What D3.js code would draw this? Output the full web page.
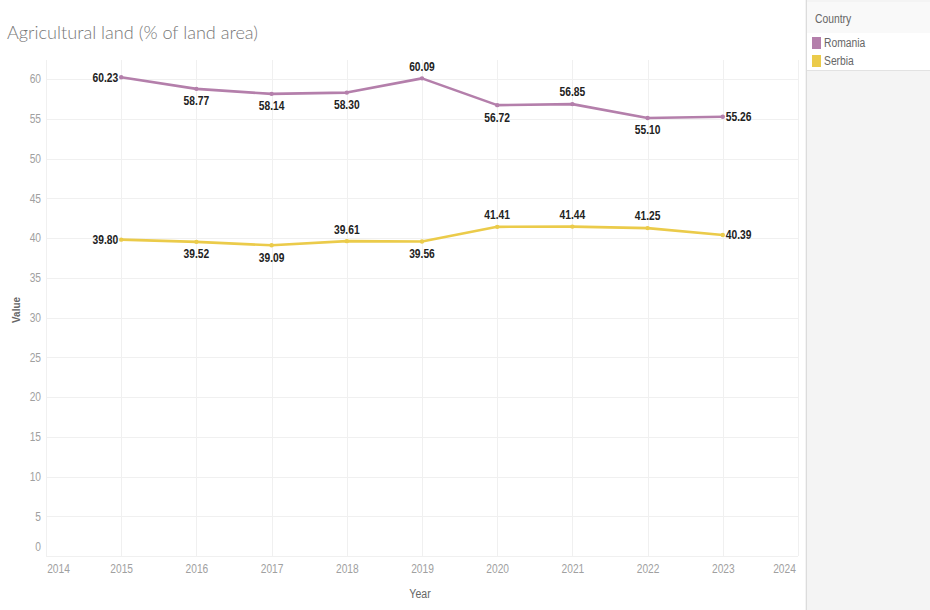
<!DOCTYPE html>
<html>
<head>
<meta charset="utf-8">
<script src="https://cdn.jsdelivr.net/npm/d3@7/dist/d3.min.js"></script>
<style>
  html, body { margin: 0; padding: 0; background: #ffffff; }
  svg { display: block; }
</style>
</head>
<body>
<svg id="chart" width="930" height="610"></svg>
<script>
// Agricultural land (% of land area), 2015–2023
const years = [2015, 2016, 2017, 2018, 2019, 2020, 2021, 2022, 2023];
const romania = [60.23, 58.77, 58.14, 58.30, 60.09, 56.72, 56.85, 55.10, 55.26];
const serbia = [39.80, 39.52, 39.09, 39.61, 39.56, 41.41, 41.44, 41.25, 40.39];
const countries = ["Romania", "Serbia"];
const colors = ["#b47fab", "#ebcb4a"];
// label placement per point: L = left, R = right, A = above, B = below
const romaniaPos = ["L", "B", "B", "B", "A", "B", "A", "B", "R"];
const serbiaPos = ["L", "B", "B", "A", "B", "A", "A", "A", "R"];
const xTicks = [2014, 2015, 2016, 2017, 2018, 2019, 2020, 2021, 2022, 2023, 2024];
const yTicks = [0, 5, 10, 15, 20, 25, 30, 35, 40, 45, 50, 55, 60];

const series = [
  { name: countries[0], values: romania, pos: romaniaPos, color: colors[0] },
  { name: countries[1], values: serbia, pos: serbiaPos, color: colors[1] }
];

const svg = d3.select("#chart");
const W = 930, H = 610;
const plot = { left: 46, right: 798, top: 60, bottom: 556 };
const uiFont = "'Liberation Sans', Arial, sans-serif";

// squeeze a text element horizontally to mimic a condensed face
function condense(sel, k) {
  sel.each(function () {
    const len = this.getComputedTextLength();
    d3.select(this).attr("textLength", len * k).attr("lengthAdjust", "spacingAndGlyphs");
  });
}

const x = d3.scaleLinear().domain([2014, 2024]).range([plot.left, plot.right]);
const y = d3.scaleLinear().domain([0, 62.4]).range([plot.bottom, plot.top]);

// right-hand legend panel
svg.append("rect").attr("x", 805).attr("y", 0).attr("width", W - 805).attr("height", H)
  .attr("fill", "#f4f4f4");
svg.append("line").attr("x1", 806.5).attr("x2", 806.5).attr("y1", 0).attr("y2", H)
  .attr("stroke", "#dcdcdc");
svg.append("rect").attr("x", 807).attr("y", 2).attr("width", W - 807).attr("height", 68)
  .attr("fill", "#ffffff");
svg.append("rect").attr("x", 807).attr("y", 2).attr("width", W - 807).attr("height", 31)
  .attr("fill", "#f9f9f9");
svg.append("line").attr("x1", 807).attr("x2", W).attr("y1", 70.5).attr("y2", 70.5)
  .attr("stroke", "#e2e2e2");
svg.append("text").attr("x", 815).attr("y", 23).text("Country")
  .attr("font-family", uiFont).attr("font-size", 12).attr("fill", "#666")
  .call(condense, 0.86);
const leg = svg.append("g").selectAll("g").data(series).join("g")
  .attr("transform", (d, i) => `translate(812, ${37 + i * 18})`);
leg.append("rect").attr("width", 9).attr("height", 12).attr("fill", d => d.color);
leg.append("text").attr("x", 12).attr("y", 10).text(d => d.name)
  .attr("font-family", uiFont).attr("font-size", 12).attr("fill", "#666")
  .call(condense, 0.86);

// title
const title = svg.append("text").attr("x", 7).attr("y", 39)
  .text("Agricultural land (% of land area)")
  .attr("font-family", "Lato, 'Open Sans', sans-serif").attr("font-weight", 300)
  .attr("font-size", 20).attr("fill", "#777");
const tw = title.node().getComputedTextLength();
title.attr("font-size", 20 * 251 / tw);

// gridlines
const grid = svg.append("g");
grid.selectAll("line.h").data(yTicks).join("line").attr("class", "h")
  .attr("x1", plot.left).attr("x2", plot.right)
  .attr("y1", d => Math.round(y(d)) + 0.5).attr("y2", d => Math.round(y(d)) + 0.5)
  .attr("stroke", "#f0f0f0");
grid.selectAll("line.v").data(xTicks).join("line").attr("class", "v")
  .attr("y1", plot.top).attr("y2", plot.bottom)
  .attr("x1", d => Math.round(x(d)) + 0.5).attr("x2", d => Math.round(x(d)) + 0.5)
  .attr("stroke", "#f0f0f0");

// y axis labels (edge labels kept inside the plot band)
const yAxis = svg.append("g").attr("transform", `translate(${plot.left - 5},0)`)
  .call(d3.axisLeft(y).tickValues(yTicks).tickSize(0).tickPadding(0));
yAxis.select(".domain").remove();
yAxis.selectAll(".tick text")
  .attr("font-family", uiFont).attr("font-size", 12).attr("fill", "#a0a0a0")
  .attr("dy", d => d === 0 ? "-0.5em" : "0.32em")
  .call(condense, 0.85);

// x axis labels
const xAxis = svg.append("g").attr("transform", `translate(0,${plot.bottom + 8})`)
  .call(d3.axisBottom(x).tickValues(xTicks).tickFormat(d3.format("d")).tickSize(0).tickPadding(0));
xAxis.select(".domain").remove();
xAxis.selectAll(".tick text")
  .attr("font-family", uiFont).attr("font-size", 12).attr("fill", "#a0a0a0")
  .attr("dx", d => d === 2014 ? 12 : d === 2024 ? -14 : 0)
  .call(condense, 0.85);

// axis titles
svg.append("text").attr("x", 420).attr("y", 598).attr("text-anchor", "middle").text("Year")
  .attr("font-family", uiFont).attr("font-size", 12).attr("fill", "#666")
  .call(condense, 0.88);
svg.append("text").attr("transform", "translate(20,310) rotate(-90)")
  .attr("text-anchor", "middle").text("Value")
  .attr("font-family", uiFont).attr("font-weight", "bold")
  .attr("font-size", 11).attr("fill", "#666")
  .call(condense, 0.9);

// lines, points, value labels
const line = d3.line().x((d, i) => x(years[i])).y(d => y(d));
const g = svg.append("g");
series.forEach(s => {
  g.append("path").datum(s.values).attr("d", line)
    .attr("fill", "none").attr("stroke", s.color).attr("stroke-width", 2.6)
    .attr("stroke-linejoin", "round");
  g.selectAll(null).data(s.values).join("circle")
    .attr("cx", (d, i) => x(years[i])).attr("cy", d => y(d)).attr("r", 2.2)
    .attr("fill", s.color);
  g.selectAll(null).data(s.values).join("text")
    .attr("x", (d, i) => {
      const p = s.pos[i];
      return x(years[i]) + (p === "L" ? -3 : p === "R" ? 3 : 0);
    })
    .attr("y", (d, i) => {
      const p = s.pos[i];
      return y(d) + (p === "A" ? -12 : p === "B" ? 12 : 0);
    })
    .attr("dy", "0.35em")
    .attr("text-anchor", (d, i) => s.pos[i] === "L" ? "end" : s.pos[i] === "R" ? "start" : "middle")
    .text(d => d.toFixed(2))
    .attr("font-family", uiFont).attr("font-weight", "bold")
    .attr("font-size", 12.5).attr("fill", "#222")
    .call(condense, 0.82);
});
</script>
</body>
</html>
